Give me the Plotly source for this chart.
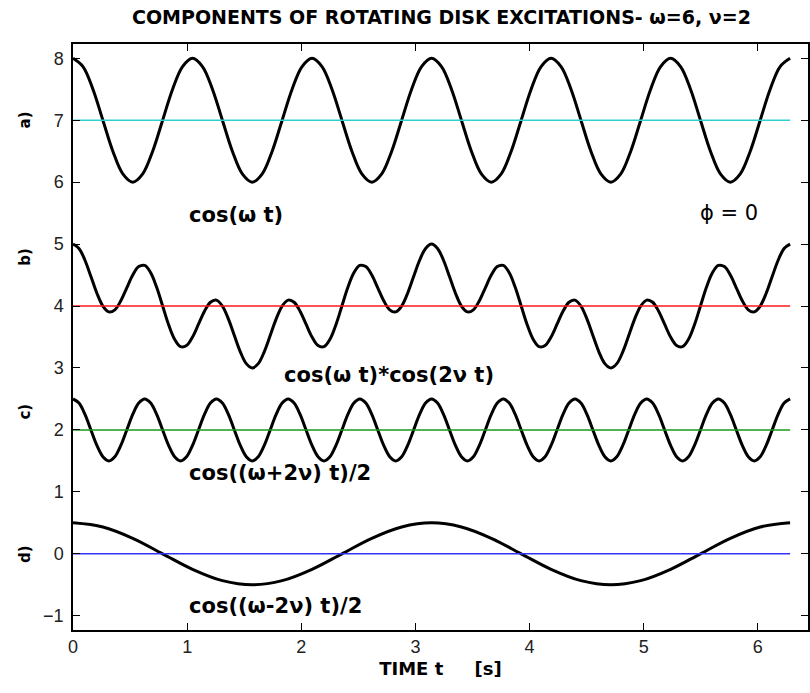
import numpy as np
import plotly.graph_objects as go

# ---- data ----
t_a = np.linspace(0, 2 * np.pi, 73)
y_a = [8, 7.866, 7.5, 7, 6.5, 6.134, 6, 6.134, 6.5, 7, 7.5, 7.866,
       8, 7.866, 7.5, 7, 6.5, 6.134, 6, 6.134, 6.5, 7, 7.5, 7.866,
       8, 7.866, 7.5, 7, 6.5, 6.134, 6, 6.134, 6.5, 7, 7.5, 7.866,
       8, 7.866, 7.5, 7, 6.5, 6.134, 6, 6.134, 6.5, 7, 7.5, 7.866,
       8, 7.866, 7.5, 7, 6.5, 6.134, 6, 6.134, 6.5, 7, 7.5, 7.866,
       8, 7.866, 7.5, 7, 6.5, 6.134, 6, 6.134, 6.5, 7, 7.5, 7.866,
       8]

t_b = np.linspace(0, 2 * np.pi, 121)
y_b = [5.0, 4.930, 4.739, 4.476, 4.207, 4.0, 3.905, 3.939, 4.085, 4.294,
       4.5, 4.637, 4.655, 4.537, 4.302, 4.0, 3.698, 3.463, 3.345, 3.363,
       3.5, 3.706, 3.915, 4.061, 4.095, 4.0, 3.793, 3.524, 3.261, 3.070,
       3.0, 3.070, 3.261, 3.524, 3.793, 4.0, 4.095, 4.061, 3.915, 3.706,
       3.5, 3.363, 3.345, 3.463, 3.698, 4.0, 4.302, 4.537, 4.655, 4.637,
       4.5, 4.294, 4.085, 3.939, 3.905, 4.0, 4.207, 4.476, 4.739, 4.930,
       5.0, 4.930, 4.739, 4.476, 4.207, 4.0, 3.905, 3.939, 4.085, 4.294,
       4.5, 4.637, 4.655, 4.537, 4.302, 4.0, 3.698, 3.463, 3.345, 3.363,
       3.5, 3.706, 3.915, 4.061, 4.095, 4.0, 3.793, 3.524, 3.261, 3.070,
       3.0, 3.070, 3.261, 3.524, 3.793, 4.0, 4.095, 4.061, 3.915, 3.706,
       3.5, 3.363, 3.345, 3.463, 3.698, 4.0, 4.302, 4.537, 4.655, 4.637,
       4.5, 4.294, 4.085, 3.939, 3.905, 4.0, 4.207, 4.476, 4.739, 4.930,
       5.0]

t_c = np.linspace(0, 2 * np.pi, 121)
y_c = [2.5, 2.433, 2.25, 2, 1.75, 1.567, 1.5, 1.567, 1.75, 2, 2.25, 2.433,
       2.5, 2.433, 2.25, 2, 1.75, 1.567, 1.5, 1.567, 1.75, 2, 2.25, 2.433,
       2.5, 2.433, 2.25, 2, 1.75, 1.567, 1.5, 1.567, 1.75, 2, 2.25, 2.433,
       2.5, 2.433, 2.25, 2, 1.75, 1.567, 1.5, 1.567, 1.75, 2, 2.25, 2.433,
       2.5, 2.433, 2.25, 2, 1.75, 1.567, 1.5, 1.567, 1.75, 2, 2.25, 2.433,
       2.5, 2.433, 2.25, 2, 1.75, 1.567, 1.5, 1.567, 1.75, 2, 2.25, 2.433,
       2.5, 2.433, 2.25, 2, 1.75, 1.567, 1.5, 1.567, 1.75, 2, 2.25, 2.433,
       2.5, 2.433, 2.25, 2, 1.75, 1.567, 1.5, 1.567, 1.75, 2, 2.25, 2.433,
       2.5, 2.433, 2.25, 2, 1.75, 1.567, 1.5, 1.567, 1.75, 2, 2.25, 2.433,
       2.5, 2.433, 2.25, 2, 1.75, 1.567, 1.5, 1.567, 1.75, 2, 2.25, 2.433,
       2.5]

t_d = np.linspace(0, 2 * np.pi, 25)
y_d = [0.5, 0.433, 0.25, 0, -0.25, -0.433, -0.5, -0.433, -0.25, 0, 0.25, 0.433,
       0.5, 0.433, 0.25, 0, -0.25, -0.433, -0.5, -0.433, -0.25, 0, 0.25, 0.433,
       0.5]

base_levels = [7, 4, 2, 0]
base_colors = ["#2ecfcf", "#ff1a1a", "#1a9a1a", "#3333ff"]
panel_labels = ["a)", "b)", "c)", "d)"]
panel_label_y = [7, 4.8, 2.3, 0]
x_ticks = [0, 1, 2, 3, 4, 5, 6]
y_ticks = [-1, 0, 1, 2, 3, 4, 5, 6, 7, 8]

FONT = "DejaVu Sans"
TICKFONT = dict(family="Arial", size=18, color="#222222")

fig = go.Figure()
for t, y in [(t_a, y_a), (t_b, y_b), (t_c, y_c), (t_d, y_d)]:
    fig.add_trace(go.Scatter(x=t, y=y, mode="lines",
                             line=dict(color="black", width=3, shape="spline"),
                             showlegend=False, hoverinfo="skip"))
for lvl, col in zip(base_levels, base_colors):
    fig.add_trace(go.Scatter(x=[0, 2 * np.pi], y=[lvl, lvl], mode="lines",
                             line=dict(color=col, width=1.5),
                             showlegend=False, hoverinfo="skip"))

bold = dict(family=FONT, size=21, color="black")
texts = [
    ("<b>cos(ω t)</b>", 1.0, 5.47, "left"),
    ("<b>cos(ω t)*cos(2ν t)</b>", 1.83, 2.89, "left"),
    ("<b>cos((ω+2ν) t)/2</b>", 1.0, 1.3, "left"),
    ("<b>cos((ω-2ν) t)/2</b>", 1.0, -0.85, "left"),
]
for txt, x, y, anc in texts:
    fig.add_annotation(x=x, y=y, text=txt, showarrow=False, xanchor=anc,
                       yanchor="middle", font=bold)
fig.add_annotation(x=5.75, y=5.5, text="ϕ = 0", showarrow=False,
                   xanchor="center", yanchor="middle",
                   font=dict(family=FONT, size=21, color="black"))

for lab, yv in zip(panel_labels, panel_label_y):
    fig.add_annotation(xref="paper", x=-0.065, y=yv, text="<b>" + lab + "</b>",
                       showarrow=False, textangle=-90, xanchor="center",
                       yanchor="middle", font=dict(family=FONT, size=15, color="black"))

fig.update_layout(
    width=810, height=693,
    margin=dict(l=73, r=0, t=44, b=63),
    paper_bgcolor="white", plot_bgcolor="white",
    title=dict(text="<b>COMPONENTS OF ROTATING DISK EXCITATIONS- ω=6, ν=2</b>",
               x=0.545, xanchor="center", y=0.975, yanchor="middle",
               font=dict(family=FONT, size=19, color="black")),
    xaxis=dict(range=[0, 6.44], tickvals=x_ticks, ticks="inside", ticklen=7,
               tickcolor="black", showline=True, linecolor="black", linewidth=1.5,
               mirror="ticks", showgrid=False, zeroline=False,
               tickfont=TICKFONT,
               title=dict(text="<b>TIME t     [s]</b>", standoff=6,
                          font=dict(family=FONT, size=18, color="black"))),
    yaxis=dict(range=[-1.23, 8.23], tickvals=y_ticks, ticks="inside", ticklen=7,
               tickcolor="black", showline=True, linecolor="black", linewidth=1.5,
               mirror="ticks", showgrid=False, zeroline=False,
               ticklabelstandoff=4,
               tickfont=TICKFONT),
)

fig.write_html("out.html")
